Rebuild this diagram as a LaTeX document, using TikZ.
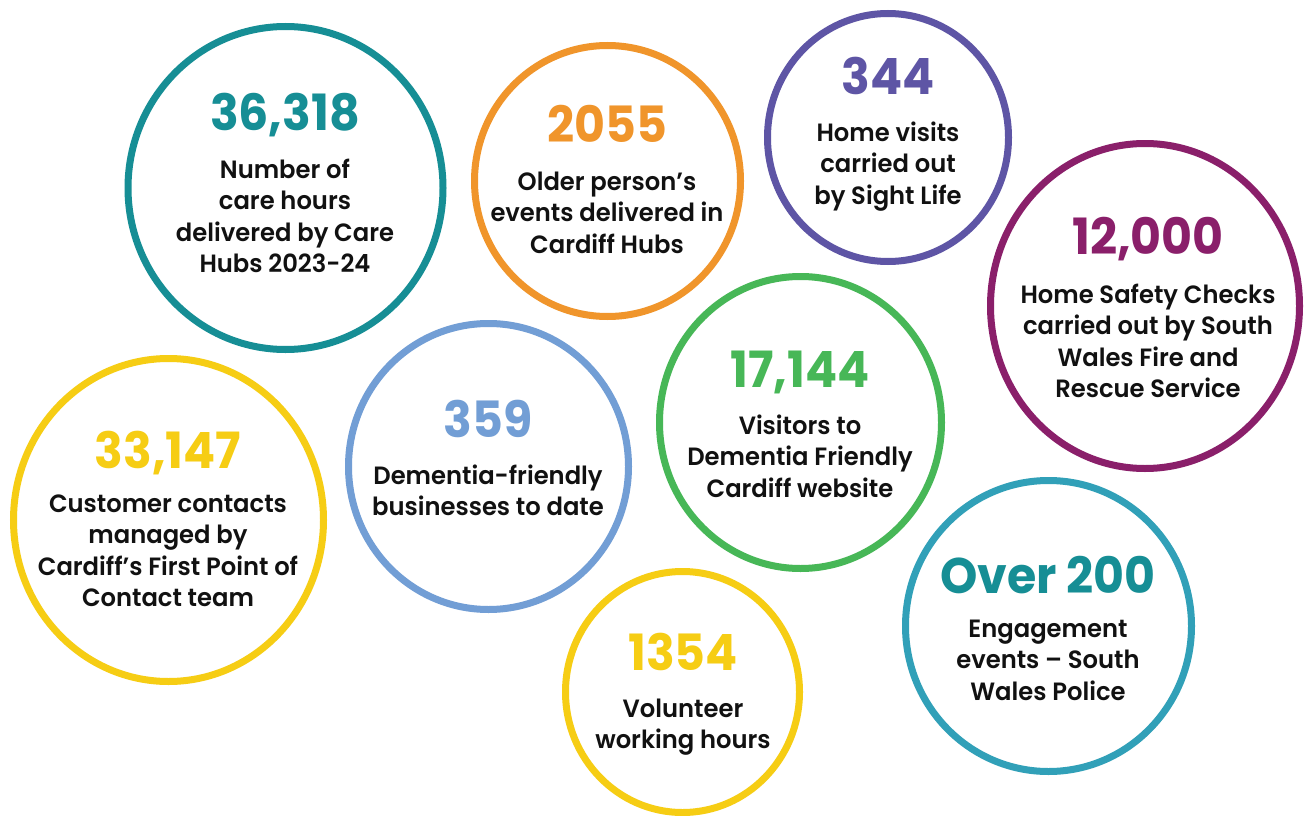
\documentclass[tikz,border=0pt]{standalone}
\usepackage{fontspec}
\setmainfont{Poppins}[BoldFont={Poppins SemiBold}, FakeStretch=0.97]
\newfontfamily\numfont{Poppins}[FakeStretch=0.95]
\definecolor{cteal}{HTML}{168E95}
\definecolor{corange}{HTML}{F0952B}
\definecolor{cpurple}{HTML}{5E55A5}
\definecolor{cmagenta}{HTML}{8A1F6A}
\definecolor{cyellow}{HTML}{F6CD14}
\definecolor{cblue}{HTML}{729ED5}
\definecolor{cgreen}{HTML}{47B757}
\definecolor{cring}{HTML}{31A0B8}
\definecolor{ctxt}{HTML}{111111}
\begin{document}
\begin{tikzpicture}[x=1pt,y=-1pt,
  ring/.style={line width=7pt},
  num/.style={anchor=base, inner sep=0pt, font=\numfont\bfseries\fontsize{50}{50}\selectfont},
  desc/.style={anchor=north, align=center, inner sep=0pt, text=ctxt,
    font=\bfseries\fontsize{25}{31.5}\selectfont}]
\useasboundingbox (0,0) rectangle (1304,816);
\fill[white] (0,0) rectangle (1304,816);
% rings
\draw[ring, cteal]    (285.5,188)   ellipse [x radius=157.5pt, y radius=161.5pt];
\draw[ring, corange]  (607.5,181)   ellipse [x radius=133pt,   y radius=135.5pt];
\draw[ring, cpurple]  (888,137.5)   ellipse [x radius=120.5pt, y radius=124pt];
\draw[ring, cmagenta] (1145,306)    ellipse [x radius=154.5pt, y radius=162.5pt];
\draw[ring, cyellow]  (168.5,520)   ellipse [x radius=155pt,   y radius=161.5pt];
\draw[ring, cblue]    (488.5,466.5) ellipse [x radius=140pt,   y radius=143pt];
\draw[ring, cgreen]   (800.5,422.5) ellipse [x radius=141pt,   y radius=146pt];
\draw[ring, cyellow]  (682.5,692)   ellipse [x radius=117pt,   y radius=120.5pt];
\draw[ring, cring]    (1048.5,626)  ellipse [x radius=143pt,   y radius=145.5pt];
% numbers
\node[num, text=cteal]    (n1) at (285,130)  {36,318};
\node[num, text=corange]  (n2) at (607,142)  {2055};
\node[num, text=cpurple]  (n3) at (888,94)   {344};
\node[num, text=cmagenta] (n4) at (1148,254) {12,000};
\node[num, text=cyellow]  (n5) at (168,468)  {33,147};
\node[num, text=cblue]    (n6) at (488,437)  {359};
\node[num, text=cgreen]   (n7) at (800,387)  {17,144};
\node[num, text=cyellow]  (n8) at (683,670)  {1354};
\node[num, text=cteal]    (n9) at (1048,593) {Over 200};
% descriptions
\node[desc] (t1) at (285,158.5)  {Number of\\care hours\\delivered by Care\\Hubs 2023-24};
\node[desc] (t2) at (607,171.5)  {Older person’s\\events delivered in\\Cardiff Hubs};
\node[desc] (t3) at (888,121.5)  {Home visits\\carried out\\by Sight Life};
\node[desc] (t4) at (1148,283.5) {Home Safety Checks\\carried out by South\\Wales Fire and\\Rescue Service};
\node[desc] (t5) at (168,494.5)  {Customer contacts\\managed by\\Cardiff’s First Point of\\Contact team};
\node[desc] (t6) at (488,464.5)  {Dementia-friendly\\businesses to date};
\node[desc] (t7) at (800,414.5)  {Visitors to\\Dementia Friendly\\Cardiff website};
\node[desc] (t8) at (683,698.5)  {Volunteer\\working hours};
\node[desc] (t9) at (1048,619.5) {Engagement\\events – South\\Wales Police};
\end{tikzpicture}
\end{document}
